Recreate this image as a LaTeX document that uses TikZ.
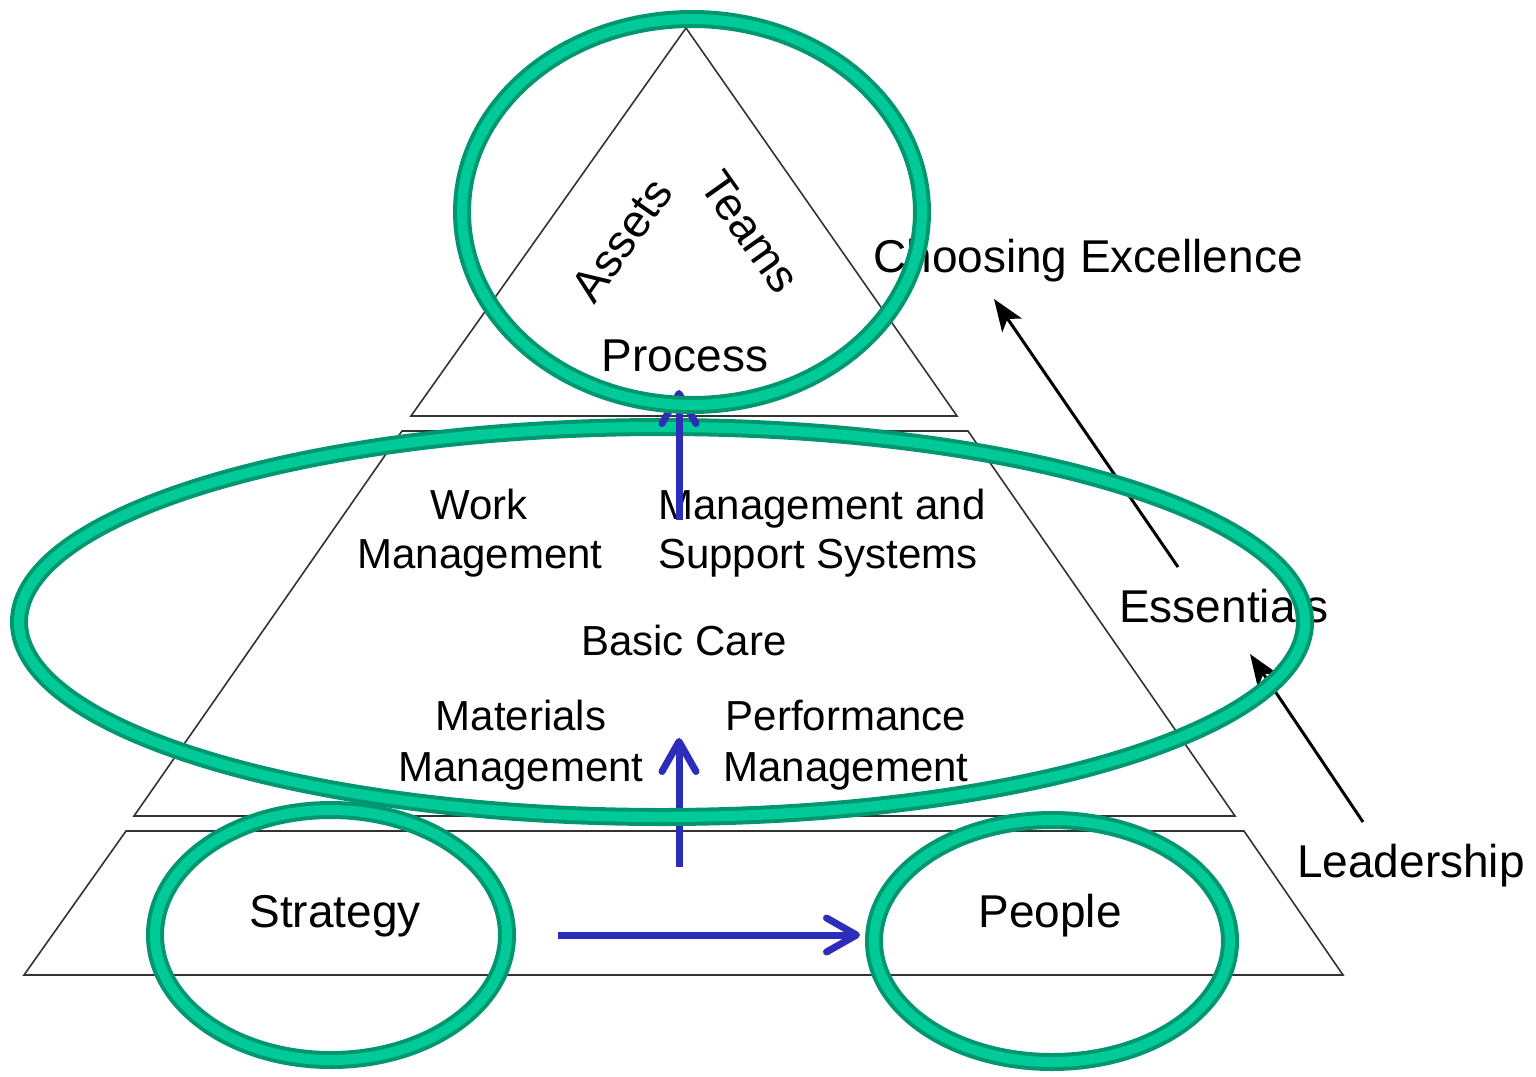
\documentclass[tikz,border=0pt]{standalone}
\usepackage{fontspec}
\setmainfont{Liberation Sans}
\usetikzlibrary{arrows.meta}
\definecolor{ringdark}{RGB}{0,150,112}
\definecolor{ringlight}{RGB}{0,202,152}
\definecolor{arrblue}{RGB}{45,45,185}
\tikzset{
  pyr/.style={draw=black!80, line width=0.8pt, line join=miter},
  ring/.style={draw=ringdark, line width=2pt, double=ringlight, double distance=5pt},
  bluearr/.style={draw=arrblue, line width=3.5pt, -{Straight Barb[length=15pt,width=17pt,round]}},
  blackarr/.style={draw=black, line width=1.5pt, -{Stealth[length=16pt,width=12pt,inset=4pt]}},
  big/.style={inner sep=0pt, anchor=base, font=\fontsize{23}{27}\selectfont},
  small/.style={inner sep=0pt, anchor=base, font=\fontsize{21}{25}\selectfont},
}
\begin{document}
\begin{tikzpicture}[x=0.5pt,y=-0.5pt]
\useasboundingbox (0,0) rectangle (1536,1076);
% pyramid
\draw[pyr] (686,28) -- (411,416) -- (957,416) -- cycle;
\draw[pyr] (402,431) -- (968,431) -- (1235,816) -- (134,816) -- cycle;
\draw[pyr] (126,831) -- (1244,831) -- (1343,975) -- (24,975) -- cycle;
% texts
\node[big, rotate=54.7, anchor=center] (assets) at (622,240) {Assets};
\node[big, rotate=-54.7, anchor=center] (teams) at (750,232) {Teams};
\node[big] (process) at (685,371) {Process};
\node[big] (choosing) at (1088,272) {Choosing Excellence};
\node[small] (work1) at (479,519) {Work};
\node[small] (work2) at (480,568) {Management};
\node[small] (mgmt1) at (822,519) {Management and};
\node[small] (mgmt2) at (818,568) {Support Systems};
\node[small] (basic) at (684,655) {Basic Care};
\node[small] (mat1) at (521,730) {Materials};
\node[small] (mat2) at (521,781) {Management};
\node[small] (perf1) at (846,730) {Performance};
\node[small] (perf2) at (846,781) {Management};
\node[big] (essentials) at (1224,622) {Essentials};
\node[big] (leadership) at (1411,877) {Leadership};
\node[big] (strategy) at (335,927) {Strategy};
\node[big] (people) at (1050,927) {People};
% arrow end points
\coordinate (lowS) at (679,867);
\coordinate (lowT) at (679,738);
\coordinate (horS) at (558,935);
\coordinate (horT) at (860,935);
\coordinate (upS) at (679,520);
\coordinate (upT) at (679,390);
\coordinate (b1S) at (1178,567);
\coordinate (b1T) at (994,299);
\coordinate (b2S) at (1363,822);
\coordinate (b2T) at (1250,654);
% black arrows
\draw[blackarr] (b1S) -- (b1T);
\draw[blackarr] (b2S) -- (b2T);
% lower blue arrows
\draw[bluearr] (lowS) -- (lowT);
\draw[bluearr] (horS) -- (horT);
% middle ring
\draw[ring] (662,622) ellipse [x radius=643, y radius=195];
% upper blue arrow
\draw[bluearr] (upS) -- (upT);
% other rings
\draw[ring] (692,212) ellipse [x radius=230, y radius=193];
\draw[ring] (331,935) ellipse [x radius=176, y radius=125];
\draw[ring] (1052,941) ellipse [x radius=178, y radius=121];
\end{tikzpicture}
\end{document}
